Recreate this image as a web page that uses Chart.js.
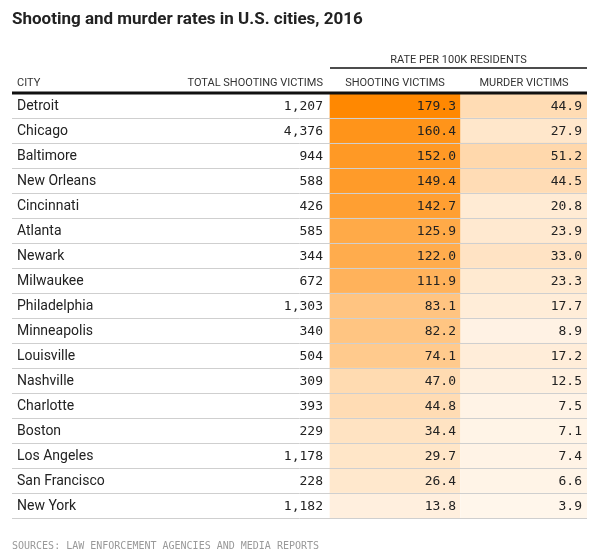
<!DOCTYPE html>
<html>
<head>
<meta charset="utf-8">
<script src="https://cdn.jsdelivr.net/npm/chart.js@4/dist/chart.umd.min.js"></script>
<style>
  html, body { margin: 0; padding: 0; background: #fff; }
  #wrap { width: 597px; height: 556px; position: relative; }
</style>
</head>
<body>
<div id="wrap"><canvas id="c"></canvas></div>
<script>
// ── Data ───────────────────────────────────────────────────
const cities = ['Detroit','Chicago','Baltimore','New Orleans','Cincinnati','Atlanta','Newark',
  'Milwaukee','Philadelphia','Minneapolis','Louisville','Nashville','Charlotte','Boston',
  'Los Angeles','San Francisco','New York'];
const totalVictims = [1207,4376,944,588,426,585,344,672,1303,340,504,309,393,229,1178,228,1182];
const shootingRate = [179.3,160.4,152.0,149.4,142.7,125.9,122.0,111.9,83.1,82.2,74.1,47.0,44.8,34.4,29.7,26.4,13.8];
const murderRate   = [44.9,27.9,51.2,44.5,20.8,23.9,33.0,23.3,17.7,8.9,17.2,12.5,7.5,7.1,7.4,6.6,3.9];

// column edges in x-axis units (chart area spans 0..575)
const COL = { totalRight: 311, shootL: 318, shootR: 448, murderL: 449, murderR: 575 };

// ── Colours ────────────────────────────────────────────────
const LO = [255, 248, 240], HI = [255, 136, 0];
function heat(v) {
  const t = Math.max(0, Math.min(1, v / 180));
  const c = LO.map((l, i) => Math.round(l + (HI[i] - l) * t));
  return `rgb(${c[0]},${c[1]},${c[2]})`;
}

const fmt = n => n.toLocaleString('en-US');
const MONO = "13px 'DejaVu Sans Mono'";

// ── Table text / rules plugin ──────────────────────────────
const tablePlugin = {
  id: 'table',
  afterDatasetsDraw(chart) {
    const { ctx, chartArea: a, scales: { x, y } } = chart;
    const rowH = (a.bottom - a.top) / cities.length;
    ctx.save();

    // row rules
    ctx.strokeStyle = '#cfcfcf'; ctx.lineWidth = 1;
    for (let i = 1; i <= cities.length; i++) {
      const yy = Math.round(a.top + i * rowH) + 0.5;
      ctx.beginPath(); ctx.moveTo(a.left, yy); ctx.lineTo(a.right, yy); ctx.stroke();
    }
    // header rule
    ctx.strokeStyle = '#111'; ctx.lineWidth = 3;
    ctx.beginPath(); ctx.moveTo(a.left, a.top); ctx.lineTo(a.right, a.top); ctx.stroke();
    ctx.lineWidth = 1.5;
    ctx.beginPath(); ctx.moveTo(x.getPixelForValue(COL.shootL), 68); ctx.lineTo(a.right, 68); ctx.stroke();

    // cells
    ctx.textBaseline = 'middle';
    cities.forEach((c, i) => {
      const yc = y.getPixelForValue(i) + 1;
      ctx.fillStyle = '#222'; ctx.font = "14px Roboto"; ctx.textAlign = 'left';
      ctx.fillText(c, a.left + 5, yc);
      ctx.font = MONO; ctx.textAlign = 'right';
      ctx.fillText(fmt(totalVictims[i]), x.getPixelForValue(COL.totalRight), yc);
      ctx.fillText(shootingRate[i].toFixed(1), x.getPixelForValue(COL.shootR) - 4, yc);
      ctx.fillText(murderRate[i].toFixed(1), x.getPixelForValue(COL.murderR) - 5, yc);
    });

    // headers
    ctx.fillStyle = '#333'; ctx.font = "11px Roboto"; ctx.textBaseline = 'alphabetic';
    ctx.textAlign = 'left'; ctx.fillText('CITY', a.left + 5, 86);
    ctx.textAlign = 'right'; ctx.fillText('TOTAL SHOOTING VICTIMS', x.getPixelForValue(COL.totalRight), 86);
    ctx.textAlign = 'center';
    ctx.fillText('SHOOTING VICTIMS', x.getPixelForValue((COL.shootL + COL.shootR) / 2), 86);
    ctx.fillText('MURDER VICTIMS', x.getPixelForValue((COL.murderL + COL.murderR) / 2), 86);
    ctx.fillText('RATE PER 100K RESIDENTS', x.getPixelForValue((COL.shootL + COL.murderR) / 2), 63);

    // title + source
    ctx.textAlign = 'left'; ctx.fillStyle = '#222';
    ctx.font = "bold 17px Roboto"; ctx.fillText('Shooting and murder rates in U.S. cities, 2016', 12, 24);
    ctx.fillStyle = '#999'; ctx.font = "10px 'DejaVu Sans Mono'";
    ctx.fillText('SOURCES: LAW ENFORCEMENT AGENCIES AND MEDIA REPORTS', 12, 549);
    ctx.restore();
  }
};

const bg = { id: 'bg', beforeDraw(c) { const g = c.ctx; g.save(); g.fillStyle = '#fff'; g.fillRect(0, 0, c.width, c.height); g.restore(); } };

new Chart(document.getElementById('c'), {
  type: 'bar',
  data: {
    labels: cities,
    datasets: [
      { data: shootingRate.map(() => [COL.shootL, COL.shootR]), backgroundColor: shootingRate.map(heat), grouped: false, barPercentage: 1, categoryPercentage: 1, borderWidth: 0 },
      { data: murderRate.map(() => [COL.murderL, COL.murderR]), backgroundColor: murderRate.map(heat), grouped: false, barPercentage: 1, categoryPercentage: 1, borderWidth: 0 },
    ],
  },
  options: {
    indexAxis: 'y',
    responsive: true,
    maintainAspectRatio: false,
    animation: false,
    layout: { padding: { left: 12, right: 10, top: 93, bottom: 38 } },
    scales: {
      x: { display: false, min: 0, max: COL.murderR },
      y: { display: false },
    },
    plugins: { legend: { display: false }, tooltip: { enabled: false } },
  },
  plugins: [bg, tablePlugin],
});
</script>
</body>
</html>
